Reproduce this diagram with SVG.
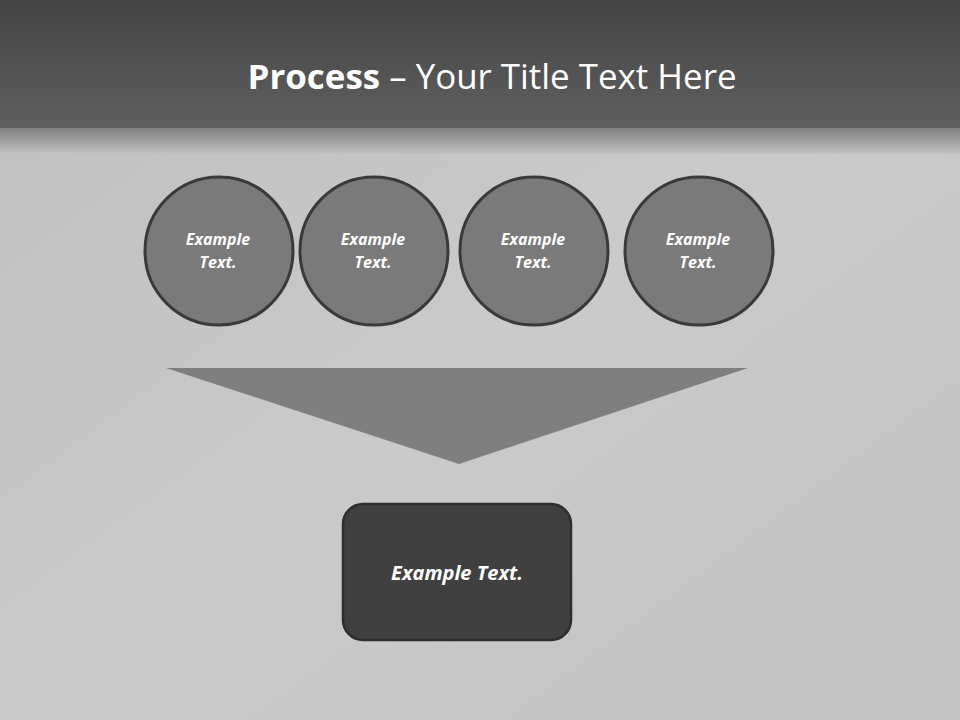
<svg xmlns="http://www.w3.org/2000/svg" width="960" height="720" viewBox="0 0 960 720">
<defs>
<linearGradient id="hdr" x1="0" y1="0" x2="0" y2="1">
<stop offset="0" stop-color="#444444"/>
<stop offset="1" stop-color="#5f5f5f"/>
</linearGradient>
<linearGradient id="fade" x1="0" y1="0" x2="0" y2="1">
<stop offset="0" stop-color="#7e7e7e"/>
<stop offset="1" stop-color="#c2c2c2"/>
</linearGradient>
<linearGradient id="body" x1="0" y1="0" x2="1" y2="1">
<stop offset="0" stop-color="#bebebe"/>
<stop offset="0.5" stop-color="#cacaca"/>
<stop offset="1" stop-color="#c3c3c3"/>
</linearGradient>
<style>
.circ{fill:#7a7a7a;stroke:#3a3a3a;stroke-width:3}
.ct{font-family:"Open Sans","Noto Sans",sans-serif;font-weight:bold;font-style:italic;font-size:16px;fill:#ffffff;text-anchor:middle}
</style>
</defs>
<rect x="0" y="0" width="960" height="720" fill="url(#body)"/>
<rect x="0" y="0" width="960" height="128" fill="url(#hdr)"/>
<rect x="0" y="128" width="960" height="26" fill="url(#fade)"/>
<text x="492" y="89" text-anchor="middle" font-family="'Open Sans','Noto Sans',sans-serif" font-size="34" fill="#ffffff" textLength="489" lengthAdjust="spacingAndGlyphs"><tspan font-weight="bold">Process</tspan> – Your Title Text Here</text>
<g id="connectors">
<polygon id="funnel" points="166,368 748,368 459,464" fill="#7f7f7f"/>
</g>
<g id="node1"><circle class="circ" cx="219" cy="251" r="74"/><text class="ct" x="218" y="245">Example</text><text class="ct" x="218" y="268">Text.</text></g>
<g id="node2"><circle class="circ" cx="374" cy="251" r="74"/><text class="ct" x="373" y="245">Example</text><text class="ct" x="373" y="268">Text.</text></g>
<g id="node3"><circle class="circ" cx="534" cy="251" r="74"/><text class="ct" x="533" y="245">Example</text><text class="ct" x="533" y="268">Text.</text></g>
<g id="node4"><circle class="circ" cx="699" cy="251" r="74"/><text class="ct" x="698" y="245">Example</text><text class="ct" x="698" y="268">Text.</text></g>
<g id="result"><rect x="343" y="504" width="228" height="136" rx="20" fill="#404040" stroke="#2e2e2e" stroke-width="2.5"/><text x="457" y="580" text-anchor="middle" font-family="'Open Sans','Noto Sans',sans-serif" font-weight="bold" font-style="italic" font-size="20" fill="#ffffff">Example Text.</text></g>
</svg>
